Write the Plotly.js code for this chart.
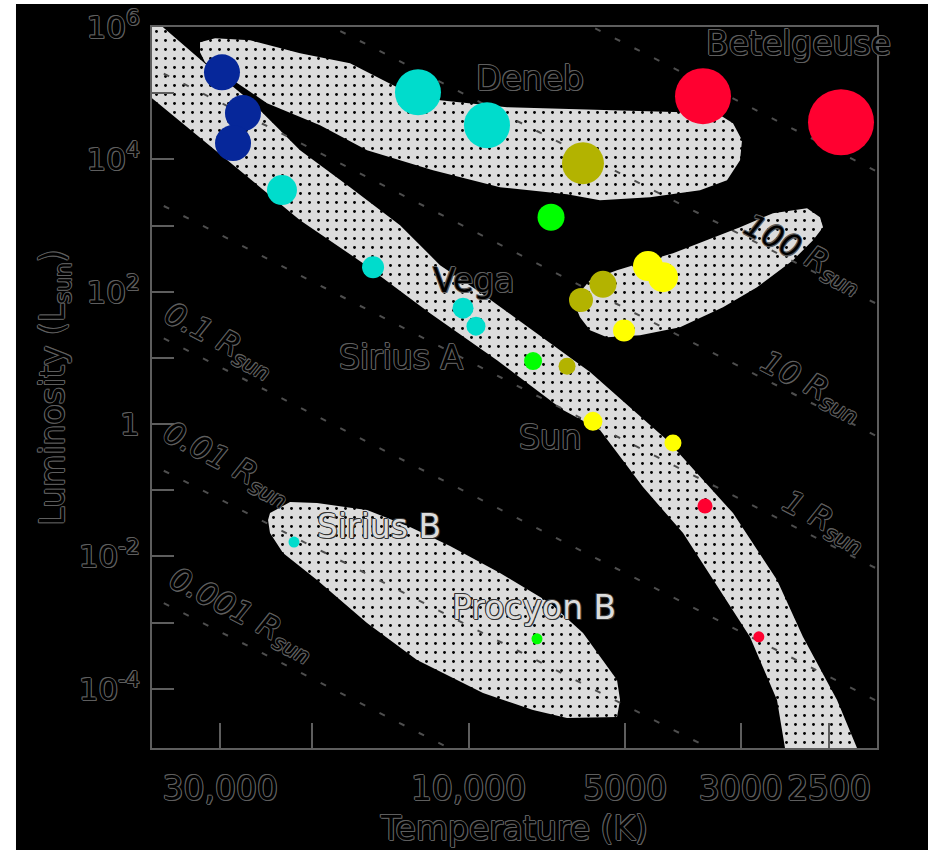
<!DOCTYPE html>
<html>
<head>
<meta charset="utf-8">
<script src="https://cdn.plot.ly/plotly-3.0.1.min.js"></script>
<style>html,body{margin:0;padding:0;background:#fff;}#chart{width:928px;height:850px;}</style>
</head>
<body>
<div id="chart"></div>
<script>
// ---------- data ----------
// Stars: temperature (K), luminosity (L_sun), drawn size, colour
const starT = [29770, 27130, 28350, 22830, 15260, 10250, 9680, 7520, 6470, 5770, 4050, 3515, 2770, 21650, 7390, 12510, 9220, 6030, 3546, 1926, 6945, 6083, 5519, 4523, 4232, 5029];
const starL = [2.07e5, 5.0e4, 1.76e4, 3430, 235, 56.5, 30.2, 8.95, 7.5, 1.1, 0.52, 0.058, 6.1e-4, 0.0165, 5.7e-4, 1.03e5, 3.29e4, 8760, 9.0e4, 3.65e4, 1340, 75, 130, 244, 166, 26];
const starSize = [36, 36, 36, 30, 22, 21, 19, 18, 17, 19, 17, 15, 11, 11, 11, 46, 46, 42, 56, 66, 27, 24, 27, 30, 30, 22];
const starColor = ['#06279a', '#06279a', '#06279a', '#00dccc', '#00dccc', '#00dccc', '#00dccc', '#00ff00', '#b3b300', '#ffff00', '#ffff00', '#ff0030', '#ff0030', '#00dccc', '#00ff00', '#00dccc', '#00dccc', '#b3b300', '#ff0030', '#ff0030', '#00ff00', '#b3b300', '#b3b300', '#ffff00', '#ffff00', '#ffff00'];

// Region outlines (log10 T, log10 L)
const msLogT = [4.6120, 4.5870, 4.5025, 4.4141, 4.3238, 4.2278, 4.1317, 4.0549, 3.9781, 3.8820, 3.7668, 3.6189, 3.4921, 3.4076, 3.3576, 3.2923, 3.2539, 3.2481,
                3.3826, 3.3922, 3.4076, 3.4594, 3.5305, 3.5881, 3.6650, 3.7476, 3.8186, 3.9454, 4.0741, 4.2028, 4.3238, 4.4583, 4.6081, 4.6312];
const msLogL = [6.1027, 5.9969, 5.4229, 4.8489, 4.1389, 3.5800, 3.0060, 2.4017, 1.9939, 1.4500, 0.7854, -0.2418, -1.3446, -2.3567, -3.2177, -4.1694, -4.8945, -5.0758,
                -5.0758, -4.8945, -4.1694, -3.2177, -2.3567, -1.6467, -0.9518, -0.0908, 0.2113, 0.9666, 1.6766, 2.4319, 3.0815, 3.9576, 4.9244, 5.0453];
const sgLogT = [4.5159, 4.4871, 4.4199, 4.3238, 4.2278, 4.1375, 4.0549, 3.9262, 3.8571, 3.7091, 3.5228, 3.4921, 3.4748, 3.4786, 3.5036, 3.5555, 3.6515, 3.7476, 3.8110, 3.9397, 4.0684, 4.1951, 4.2854, 4.3872, 4.4525, 4.5063, 4.5159];
const sgLogL = [5.7704, 5.8308, 5.8006, 5.6042, 5.4531, 5.0906, 4.8942, 4.7885, 4.7734, 4.7431, 4.6978, 4.5468, 4.2900, 3.9878, 3.6857, 3.5347, 3.4289, 3.3836, 3.4742, 3.5800, 3.8368, 4.1389, 4.5166, 4.8489, 5.1963, 5.4682, 5.6193];
const gLogT = [3.7668, 3.7149, 3.6073, 3.4786, 3.4152, 3.3499, 3.3250, 3.3192, 3.3384, 3.3768, 3.4460, 3.5113, 3.5939, 3.6707, 3.7341, 3.7668, 3.7860, 3.7994];
const gLogL = [2.1751, 2.3262, 2.5830, 2.9757, 3.1872, 3.2628, 3.1268, 2.9757, 2.7794, 2.4772, 2.0694, 1.7673, 1.4651, 1.3443, 1.3141, 1.4198, 1.6162, 1.8730];
const wdLogT = [4.3815, 4.3430, 4.2912, 4.1951, 4.1125, 4.0357, 3.9397, 3.8436, 3.7802, 3.7418, 3.7149, 3.7091, 3.7149, 3.8110, 3.8763, 3.9723, 4.0991, 4.1951, 4.2912, 4.3565, 4.3815, 4.3853];
const wdLogL = [-1.3446, -1.1786, -1.1935, -1.2993, -1.5561, -1.8431, -2.2509, -2.7041, -3.1573, -3.5652, -3.8673, -4.1694, -4.4262, -4.4413, -4.3205, -4.0637, -3.5652, -3.0062, -2.3567, -1.9488, -1.6467, -1.4503];

// Lines of constant radius: end temperatures and end luminosities
const radiusSun = [0.001, 0.01, 0.1, 1, 10, 100, 1000];
const lineEndT = [42000, 1600];
const lineEndL = [[2.792e-3, 5.88e-9], [0.2792, 5.88e-7], [27.92, 5.88e-5], [2792, 5.88e-3], [2.792e5, 0.588], [2.792e7, 58.8], [2.792e9, 5880]];

// Axis ticks (the reference's schematic axis puts its "2500" mark near 2030 K of the log scale)
const xTickVals = [30000, 20000, 10000, 5000, 3000, 2030];
const xTickText = ['30,000', '', '10,000', '5000', '3000', '2500'];
const yTickVals = [1e-4, 1e-3, 1e-2, 1e-1, 1, 10, 100, 1e3, 1e4, 1e5, 1e6];
const yTickText = ['10<sup>-4</sup>', '', '10<sup>-2</sup>', '', '1', '', '10<sup>2</sup>', '', '10<sup>4</sup>', '', '10<sup>6</sup>'];

// Labels
const starNames = ['Betelgeuse', 'Deneb', 'Vega', 'Sirius A', 'Sun', 'Sirius B', 'Procyon B'];
const starNameX = [0.8924, 0.5214, 0.4441, 0.3434, 0.5490, 0.3131, 0.5269];
const starNameY = [0.9771, 0.9279, 0.6484, 0.5423, 0.4307, 0.3079, 0.1949];
const starNameOnBand = [false, false, false, false, false, true, true];
const radiusLabelR = ['0.1', '0.01', '0.001', '1', '10', '100'];
const radiusLabelX = [0.0924, 0.1021, 0.1228, 0.9269, 0.9090, 0.8979];
const radiusLabelY = [0.5645, 0.3939, 0.1845, 0.3135, 0.5007, 0.6838];

// ---------- drawing ----------
const OUT = '#5e5e5e';
const BAND = '#dcdcdc';
const ring = c => `1px 0 0 ${c}, -1px 0 0 ${c}, 0 1px 0 ${c}, 0 -1px 0 ${c}, 1px 1px 0 ${c}, -1px -1px 0 ${c}`;
const FAM = 'DejaVu Sans';
const hollow = (size, extra) => Object.assign({family: FAM, size: size, color: '#000000', shadow: ring(OUT)}, extra || {});

const pow10 = a => a.map(v => Math.pow(10, v));
const bandStyle = {
  type: 'scatter', mode: 'lines', fill: 'toself', line: {width: 0, color: BAND},
  fillcolor: BAND,
  fillpattern: {shape: '.', bgcolor: BAND, fgcolor: '#000000', size: 9, solidity: 0.08},
  hoverinfo: 'skip', showlegend: false
};
const bands = [[msLogT, msLogL], [sgLogT, sgLogL], [gLogT, gLogL], [wdLogT, wdLogL]].map(b =>
  Object.assign({}, bandStyle, {x: pow10(b[0]), y: pow10(b[1])}));

const lines = radiusSun.map((r, i) => ({
  type: 'scatter', mode: 'lines', x: lineEndT, y: lineEndL[i],
  line: {color: '#4e4e4e', width: 2, dash: '6px,16px'}, hoverinfo: 'skip', showlegend: false, name: r + ' R_sun'
}));

const stars = {
  type: 'scatter', mode: 'markers', x: starT, y: starL,
  marker: {size: starSize, color: starColor, line: {width: 0}, opacity: 1},
  showlegend: false, cliponaxis: true
};

const annotations = [];
starNames.forEach((n, i) => annotations.push({
  xref: 'paper', yref: 'paper', x: starNameX[i], y: starNameY[i], text: n, showarrow: false,
  xanchor: 'center', yanchor: 'middle',
  font: hollow(33, starNameOnBand[i] ? {color: BAND, shadow: ring('#333333')} : {})
}));
radiusLabelR.forEach((r, i) => annotations.push({
  xref: 'paper', yref: 'paper', x: radiusLabelX[i], y: radiusLabelY[i],
  text: r + ' R<sub>sun</sub>', showarrow: false, textangle: 27.5,
  xanchor: 'center', yanchor: 'middle', font: hollow(31, {style: 'italic'})
}));

const layout = {
  width: 928, height: 850,
  margin: {l: 152, r: 51, t: 27, b: 102, pad: 0},
  paper_bgcolor: '#000000', plot_bgcolor: '#000000',
  showlegend: false,
  xaxis: {
    type: 'log', range: [4.6082, 3.2155],
    tickvals: xTickVals, ticktext: xTickText, tickangle: 0,
    ticks: 'inside', ticklen: 25, tickwidth: 2, tickcolor: OUT,
    showline: true, linecolor: OUT, linewidth: 2, mirror: true,
    showgrid: false, zeroline: false, ticklabelstandoff: 10,
    tickfont: hollow(33),
    title: {text: 'Temperature (K)', font: hollow(33), standoff: 10}
  },
  yaxis: {
    type: 'log', range: [-4.894, 6.0],
    tickvals: yTickVals, ticktext: yTickText,
    ticks: 'inside', ticklen: 22, tickwidth: 2, tickcolor: OUT,
    showline: true, linecolor: OUT, linewidth: 2, mirror: true,
    showgrid: false, zeroline: false, ticklabelstandoff: 4,
    tickfont: hollow(31),
    title: {text: 'Luminosity (L<sub>sun</sub>)', font: hollow(33), standoff: 4}
  },
  annotations: annotations,
  shapes: [
    {type: 'rect', xref: 'paper', yref: 'paper', x0: -0.25, x1: -0.1876, y0: -0.2, y1: 1.1, fillcolor: '#ffffff', line: {width: 0}, layer: 'above'},
    {type: 'rect', xref: 'paper', yref: 'paper', x0: -0.25, x1: 1.1, y0: 1.0319, y1: 1.1, fillcolor: '#ffffff', line: {width: 0}, layer: 'above'}
  ]
};

Plotly.newPlot('chart', bands.concat(lines, [stars]), layout, {staticPlot: true, displayModeBar: false});
</script>
</body>
</html>
